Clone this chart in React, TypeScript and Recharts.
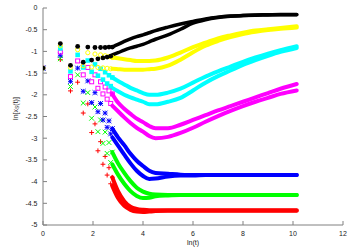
import React from 'react';
import { ComposedChart, Scatter, Line, XAxis, YAxis } from 'recharts';

// ln(t) for t = 1..16 (discrete early points)
const lnT = [0, 0.693, 1.099, 1.386, 1.609, 1.792, 1.946, 2.079, 2.197, 2.303, 2.398, 2.485, 2.565, 2.639, 2.708, 2.773];

// early values (t = 1..16), odd and even t alternate
const blackEarly = [-1.385, -0.82, -1.32, -0.885, -1.25, -0.9, -1.2, -0.91, -1.17, -0.91, -1.15, -0.91, -1.13, -0.9, -1.11, -0.9];
const yellowEarly = [-1.385, -0.87, -1.37, -0.96, -1.33, -1.03, -1.36, -1.06, -1.37, -1.08, -1.38, -1.1, -1.39, -1.12, -1.4, -1.14];
const cyanEarly = [-1.385, -0.93, -1.46, -1.08, -1.37, -1.21, -1.47, -1.3, -1.56, -1.4, -1.65, -1.48, -1.74, -1.55, -1.8, -1.6];
const magentaEarly = [-1.385, -1.015, -1.58, -1.22, -1.54, -1.37, -1.7, -1.54, -1.85, -1.7, -1.98, -1.82, -2.1, -1.91, -2.2, -1.98];
const blueEarly = [-1.385, -1.09, -1.69, -1.385, -1.92, -1.68, -2.18, -1.95, -2.39, -2.2, -2.58, -2.42, -2.75, -2.6, -2.9, -2.78];
const greenEarly = [-1.385, -1.17, -1.81, -1.54, -2.19, -1.95, -2.54, -2.28, -2.85, -2.58, -3.12, -2.86, -3.35, -3.1, -3.56, -3.32];
const redEarly = [-1.385, -1.19, -1.91, -1.71, -2.42, -2.21, -2.87, -2.67, -3.29, -3.08, -3.6, -3.42, -3.85, -3.68, -4.05, -3.9];

// dense part: ln(t) samples
const bandL = [2.77, 3.0, 3.25, 3.5, 3.75, 4.0, 4.25, 4.5, 5.0, 5.5, 6.0, 6.5, 7.0, 7.5, 8.0, 8.5, 9.0, 9.5, 10.15];

const blackUp = [-0.9, -0.84, -0.77, -0.71, -0.66, -0.62, -0.57, -0.52, -0.44, -0.37, -0.31, -0.25, -0.21, -0.185, -0.17, -0.16, -0.155, -0.15, -0.15];
const blackLo = [-1.08, -1.03, -0.97, -0.92, -0.88, -0.84, -0.78, -0.72, -0.62, -0.49, -0.35, -0.27, -0.22, -0.19, -0.175, -0.165, -0.16, -0.155, -0.155];
const yellowUp = [-1.14, -1.16, -1.18, -1.2, -1.22, -1.22, -1.22, -1.21, -1.14, -1.03, -0.9, -0.8, -0.7, -0.63, -0.57, -0.52, -0.49, -0.46, -0.42];
const yellowLo = [-1.4, -1.41, -1.42, -1.42, -1.42, -1.42, -1.41, -1.4, -1.33, -1.19, -1.02, -0.87, -0.76, -0.67, -0.6, -0.55, -0.51, -0.48, -0.45];
const cyanUp = [-1.6, -1.68, -1.76, -1.84, -1.9, -1.96, -2.0, -2.0, -1.95, -1.86, -1.72, -1.58, -1.46, -1.35, -1.24, -1.14, -1.05, -0.97, -0.88];
const cyanLo = [-1.84, -1.92, -2.0, -2.06, -2.11, -2.16, -2.22, -2.22, -2.16, -2.07, -1.9, -1.72, -1.57, -1.44, -1.31, -1.2, -1.1, -1.01, -0.92];
const magentaUp = [-1.98, -2.18, -2.32, -2.44, -2.55, -2.63, -2.72, -2.77, -2.77, -2.69, -2.58, -2.47, -2.36, -2.26, -2.16, -2.06, -1.96, -1.86, -1.75];
const magentaLo = [-2.25, -2.38, -2.52, -2.65, -2.76, -2.85, -2.95, -3.0, -2.97, -2.88, -2.76, -2.62, -2.49, -2.37, -2.26, -2.16, -2.07, -1.98, -1.9];
const blueUp = [-2.78, -2.98, -3.16, -3.36, -3.52, -3.64, -3.75, -3.8, -3.82, -3.84, -3.85, -3.85, -3.85, -3.85, -3.85, -3.85, -3.85, -3.85, -3.85];
const blueLo = [-2.98, -3.17, -3.38, -3.58, -3.75, -3.87, -3.94, -3.93, -3.88, -3.86, -3.86, -3.85, -3.85, -3.85, -3.85, -3.85, -3.85, -3.85, -3.85];
const greenUp = [-3.32, -3.58, -3.8, -3.99, -4.14, -4.23, -4.28, -4.3, -4.31, -4.31, -4.31, -4.31, -4.31, -4.31, -4.31, -4.31, -4.31, -4.31, -4.31];
const greenLo = [-3.6, -3.84, -4.05, -4.22, -4.33, -4.38, -4.37, -4.34, -4.32, -4.31, -4.31, -4.31, -4.31, -4.31, -4.31, -4.31, -4.31, -4.31, -4.31];
const redUp = [-3.9, -4.22, -4.45, -4.58, -4.63, -4.65, -4.66, -4.66, -4.66, -4.66, -4.66, -4.66, -4.66, -4.66, -4.66, -4.66, -4.66, -4.66, -4.66];
const redLo = [-4.1, -4.38, -4.56, -4.65, -4.69, -4.7, -4.69, -4.68, -4.67, -4.67, -4.67, -4.67, -4.67, -4.67, -4.67, -4.67, -4.67, -4.67, -4.67];

const xTicks = [0, 2, 4, 6, 8, 10, 12];
const yTicks = [0, -0.5, -1, -1.5, -2, -2.5, -3, -3.5, -4, -4.5, -5];

const FONT = '"Liberation Sans", Arial, sans-serif';
const BORDER = '#808080';

const pts = (xs: number[], ys: number[]) => xs.map((x, i) => ({ x, y: ys[i] }));

type Kind = 'plus' | 'cross' | 'star' | 'osq' | 'fsq' | 'ocirc' | 'fcirc';

const makeShape = (kind: Kind, color: string) => (props: any) => {
  const { cx, cy } = props;
  if (cx == null || cy == null) return <g />;
  const r = 2.4;
  switch (kind) {
    case 'plus':
      return <path d={`M${cx - r},${cy}h${2 * r}M${cx},${cy - r}v${2 * r}`} stroke={color} strokeWidth={1} fill="none" />;
    case 'cross':
      return <path d={`M${cx - r},${cy - r}L${cx + r},${cy + r}M${cx - r},${cy + r}L${cx + r},${cy - r}`} stroke={color} strokeWidth={1} fill="none" />;
    case 'star':
      return <path d={`M${cx - r},${cy}h${2 * r}M${cx},${cy - r}v${2 * r}M${cx - r},${cy - r}L${cx + r},${cy + r}M${cx - r},${cy + r}L${cx + r},${cy - r}`} stroke={color} strokeWidth={1} fill="none" />;
    case 'osq':
      return <rect x={cx - 2} y={cy - 2} width={4} height={4} stroke={color} strokeWidth={1} fill="none" />;
    case 'fsq':
      return <rect x={cx - 2.3} y={cy - 2.3} width={4.6} height={4.6} fill={color} />;
    case 'ocirc':
      return <circle cx={cx} cy={cy} r={2.1} stroke={color} strokeWidth={1} fill="none" />;
    default:
      return <circle cx={cx} cy={cy} r={2.4} fill={color} />;
  }
};

const series = [
  { name: 'red', color: '#ff0000', kind: 'plus' as Kind, early: redEarly, up: redUp, lo: redLo },
  { name: 'green', color: '#00ff00', kind: 'cross' as Kind, early: greenEarly, up: greenUp, lo: greenLo },
  { name: 'blue', color: '#0000ff', kind: 'star' as Kind, early: blueEarly, up: blueUp, lo: blueLo },
  { name: 'magenta', color: '#ff00ff', kind: 'osq' as Kind, early: magentaEarly, up: magentaUp, lo: magentaLo },
  { name: 'cyan', color: '#00ffff', kind: 'fsq' as Kind, early: cyanEarly, up: cyanUp, lo: cyanLo },
  { name: 'yellow', color: '#ffff00', kind: 'ocirc' as Kind, early: yellowEarly, up: yellowUp, lo: yellowLo },
  { name: 'black', color: '#000000', kind: 'fcirc' as Kind, early: blackEarly, up: blackUp, lo: blackLo },
];

const YLabel = (props: any) => {
  const vb = props.viewBox || {};
  const x = 15;
  const y = (vb.y || 8) + (vb.height || 217) / 2 - 8;
  return (
    <text x={x} y={y} transform={`rotate(-90, ${x}, ${y})`} textAnchor="middle" dominantBaseline="central" fontFamily={FONT} fontSize={7} fill="#222">
      ln[x<tspan fontSize={5} dy={2}>S</tspan><tspan dy={-2}>(t)]</tspan>
    </text>
  );
};

const XLabel = (props: any) => {
  const vb = props.viewBox || {};
  const x = (vb.x || 43) + (vb.width || 300) / 2;
  return (
    <text x={x} y={242} textAnchor="middle" dominantBaseline="central" fontFamily={FONT} fontSize={7} fill="#222">
      ln(t)
    </text>
  );
};

const tickStyle = { fontSize: 7, fontFamily: FONT, fill: '#222' };

export default function App() {
  return (
    <div style={{ position: 'absolute', left: 0, top: 0, width: 354, height: 248, background: '#fff' }}>
      <ComposedChart width={354} height={248} margin={{ top: 8, right: 11, bottom: 0, left: 0 }}>
        <XAxis
          xAxisId="b"
          dataKey="x"
          type="number"
          domain={[0, 12]}
          ticks={xTicks}
          orientation="bottom"
          height={23}
          tickSize={-4}
          tickMargin={10}
          tick={tickStyle}
          axisLine={{ stroke: BORDER }}
          tickLine={{ stroke: BORDER }}
          allowDataOverflow
          label={{ content: XLabel }}
        />
        <XAxis
          xAxisId="t"
          dataKey="x"
          type="number"
          domain={[0, 12]}
          ticks={xTicks}
          orientation="top"
          height={0}
          tickSize={-4}
          tick={false}
          axisLine={{ stroke: BORDER }}
          tickLine={{ stroke: BORDER }}
          allowDataOverflow
        />
        <YAxis
          yAxisId="l"
          dataKey="y"
          type="number"
          domain={[-5, 0]}
          ticks={yTicks}
          orientation="left"
          width={43}
          tickSize={-4}
          tickMargin={9.5}
          tick={tickStyle}
          axisLine={{ stroke: BORDER }}
          tickLine={{ stroke: BORDER }}
          allowDataOverflow
          label={{ content: YLabel }}
        />
        <YAxis
          yAxisId="r"
          dataKey="y"
          type="number"
          domain={[-5, 0]}
          ticks={yTicks}
          orientation="right"
          width={0}
          tickSize={-4}
          tick={false}
          axisLine={{ stroke: BORDER }}
          tickLine={{ stroke: BORDER }}
          allowDataOverflow
        />
        {series.map((s) => [
          <Line
            key={s.name + '-lo'}
            xAxisId="b"
            yAxisId="l"
            data={pts(bandL, s.lo)}
            dataKey="y"
            type="monotone"
            stroke={s.color}
            strokeWidth={s.name === 'black' ? 3.5 : 4}
            strokeLinecap="round"
            dot={false}
            activeDot={false}
            isAnimationActive={false}
          />,
          <Line
            key={s.name + '-up'}
            xAxisId="b"
            yAxisId="l"
            data={pts(bandL, s.up)}
            dataKey="y"
            type="monotone"
            stroke={s.color}
            strokeWidth={s.name === 'black' ? 3.5 : 4}
            strokeLinecap="round"
            dot={false}
            activeDot={false}
            isAnimationActive={false}
          />,
          <Scatter
            key={s.name + '-early'}
            xAxisId="b"
            yAxisId="l"
            data={pts(lnT, s.early)}
            shape={makeShape(s.kind, s.color)}
            isAnimationActive={false}
          />,
        ])}
      </ComposedChart>
    </div>
  );
}
